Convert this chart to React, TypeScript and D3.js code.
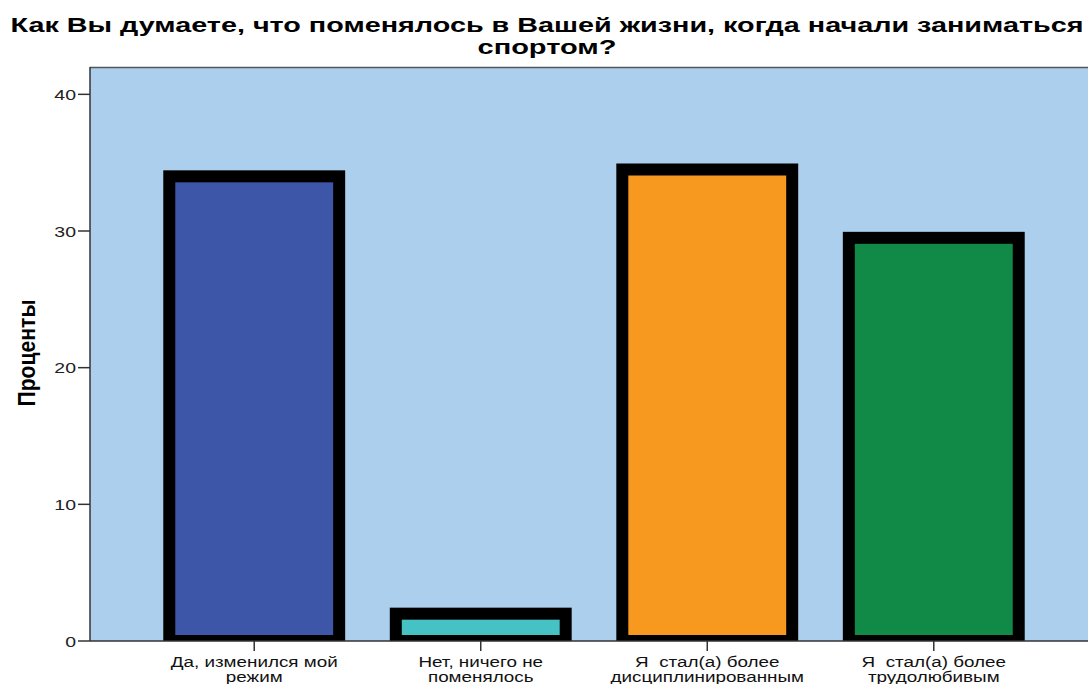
import { useEffect, useRef } from "react";
import * as d3 from "d3";

const categories = [
  ["Да, изменился мой", "режим"],
  ["Нет, ничего не", "поменялось"],
  ["Я  стал(а) более", "дисциплинированным"],
  ["Я  стал(а) более", "трудолюбивым"],
];
const percents = [34.0, 2.0, 34.5, 29.5];
const barColors = ["#3d56a8", "#47c2c4", "#f7991f", "#118a47"];
const yTicks = [0, 10, 20, 30, 40];

const titleLines = [
  "Как Вы думаете, что поменялось в Вашей жизни, когда начали заниматься",
  "спортом?",
];
const yTitle = "Проценты";

const App = () => {
  const svgRef = useRef<SVGSVGElement>(null);

  useEffect(() => {
    const svg = d3.select(svgRef.current);
    const width = 1088;
    const height = 684;
    svg.selectAll("*").remove();

    const left = 90, right = 1098, top = 67, bottom = 641;
    const font = "'Liberation Sans', Arial, sans-serif";

    const x = d3.scaleBand<number>()
      .domain(d3.range(percents.length))
      .range([left, right])
      .paddingInner(0.25)
      .paddingOuter(0.35);

    const y = d3.scaleLinear().domain([0, 42]).range([bottom, top]);

    svg.append("rect").attr("width", width).attr("height", height).attr("fill", "#fff");

    // plot background
    svg.append("rect")
      .attr("x", left).attr("y", top)
      .attr("width", right - left).attr("height", bottom - top)
      .attr("fill", "#abcfed");

    svg.append("defs").append("clipPath").attr("id", "plotClip")
      .append("rect")
      .attr("x", left).attr("y", top)
      .attr("width", right - left).attr("height", bottom - top);

    // bars
    svg.append("g").attr("clip-path", "url(#plotClip)")
      .selectAll("rect")
      .data(percents)
      .join("rect")
      .attr("x", (_, i) => x(i)!)
      .attr("y", (d) => y(d))
      .attr("width", x.bandwidth())
      .attr("height", (d) => y(0) - y(d))
      .attr("fill", (_, i) => barColors[i])
      .attr("stroke", "#000")
      .attr("stroke-width", 12);

    // frame
    svg.append("line")
      .attr("x1", left).attr("x2", right).attr("y1", top + 0.5).attr("y2", top + 0.5)
      .attr("stroke", "#555").attr("stroke-width", 1.5);
    svg.append("line")
      .attr("x1", left).attr("x2", right).attr("y1", bottom).attr("y2", bottom)
      .attr("stroke", "#333").attr("stroke-width", 1.5);
    svg.append("line")
      .attr("x1", left).attr("x2", left).attr("y1", top).attr("y2", bottom)
      .attr("stroke", "#333").attr("stroke-width", 1.5);

    // y axis ticks
    const yAxis = svg.append("g");
    yTicks.forEach((t) => {
      yAxis.append("line")
        .attr("x1", left - 12).attr("x2", left)
        .attr("y1", y(t)).attr("y2", y(t))
        .attr("stroke", "#333").attr("stroke-width", 1.5);
      yAxis.append("text")
        .attr("transform", `translate(${left - 14},${y(t) + 5.5}) scale(1.3,1)`)
        .attr("text-anchor", "end")
        .attr("font-family", font).attr("font-size", 15)
        .attr("fill", "#222")
        .text(t);
    });

    // x axis ticks and labels
    categories.forEach((lines, i) => {
      const cx = x(i)! + x.bandwidth() / 2;
      svg.append("line")
        .attr("x1", cx).attr("x2", cx).attr("y1", bottom).attr("y2", bottom + 10)
        .attr("stroke", "#333").attr("stroke-width", 1.5);
      lines.forEach((s, j) => {
        svg.append("text")
          .attr("transform", `translate(${cx},${667 + j * 15}) scale(1.3,1)`)
          .attr("text-anchor", "middle")
          .attr("font-family", font).attr("font-size", 14.5)
          .attr("fill", "#111")
          .style("white-space", "pre")
          .text(s);
      });
    });

    // y title
    svg.append("text")
      .attr("transform", `translate(35,353) rotate(-90)`)
      .attr("text-anchor", "middle")
      .attr("font-family", font).attr("font-size", 24).attr("font-weight", "bold")
      .attr("textLength", 107).attr("lengthAdjust", "spacingAndGlyphs")
      .text(yTitle);

    // title
    svg.append("text")
      .attr("x", 547).attr("y", 32)
      .attr("text-anchor", "middle")
      .attr("font-family", font).attr("font-size", 21).attr("font-weight", "bold")
      .attr("textLength", 1073).attr("lengthAdjust", "spacingAndGlyphs")
      .text(titleLines[0]);
    svg.append("text")
      .attr("x", 547).attr("y", 54)
      .attr("text-anchor", "middle")
      .attr("font-family", font).attr("font-size", 21).attr("font-weight", "bold")
      .attr("textLength", 139).attr("lengthAdjust", "spacingAndGlyphs")
      .text(titleLines[1]);
  }, []);

  return (
    <svg
      ref={svgRef}
      width={1088}
      height={684}
      style={{ position: "absolute", left: 0, top: 0 }}
    />
  );
};

export default App;
